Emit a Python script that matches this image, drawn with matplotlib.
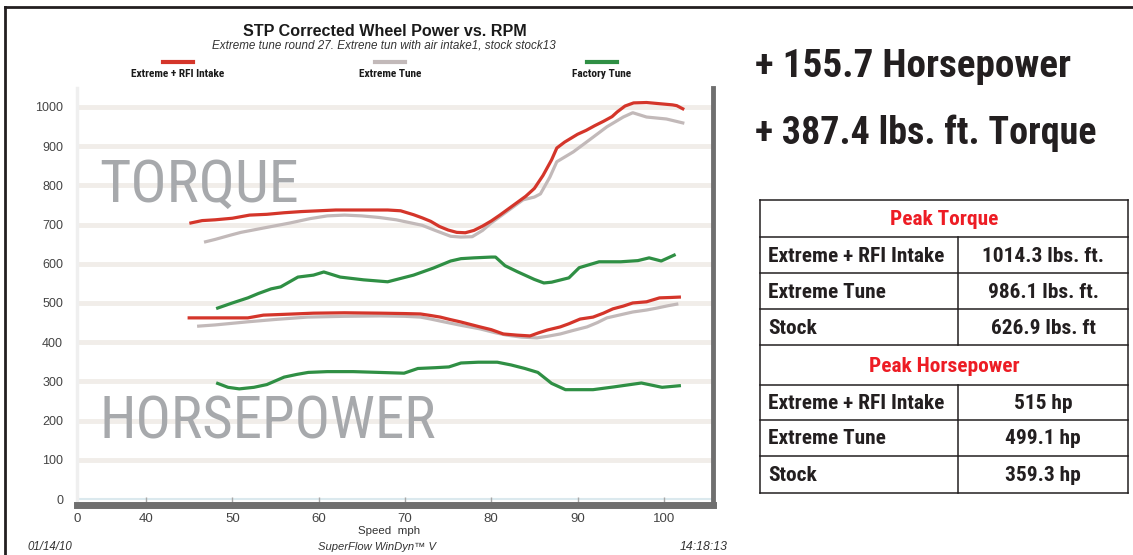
import matplotlib
matplotlib.use("Agg")
import matplotlib.pyplot as plt

# speed (mph) / value pairs
tq_rfi_mph = [45.2, 46.5, 48, 50, 52, 54, 56, 58, 60, 62, 64, 66, 68, 69.5, 71, 72, 73, 74, 75, 76,
              77, 78, 79, 80, 81, 82, 83, 84, 85, 86, 86.5, 87, 87.6, 88.5, 90, 91, 92, 93, 94, 94.6,
              95.5, 96.5, 98, 99.5, 101, 101.5, 102.2]
tq_rfi = [704, 710, 712, 716, 724, 726, 730, 733, 735, 737, 737, 737, 737, 735, 725, 717, 708, 695, 686, 680,
          679, 685, 696, 709, 724, 740, 756, 772, 792, 825, 845, 865, 895, 910, 930, 940, 952, 963, 975, 987,
          1002, 1010, 1011, 1008, 1005, 1003, 995]

tq_ext_mph = [46.9, 48, 49.8, 51, 53.6, 56.7, 59, 61, 63, 65, 67, 69, 70.5, 72, 73.5, 75.3, 76.5, 77.8, 79, 80,
              81.5, 83, 83.7, 85, 85.7, 86.8, 87.6, 89.5, 91.4, 93.4, 95.3, 96.4, 98, 100.3, 102.2]
tq_ext = [656, 662, 673, 680, 691, 704, 715, 722, 724, 722, 718, 712, 705, 698, 685, 670, 668, 669, 685, 704,
          728, 752, 763, 770, 778, 821, 860, 885, 916, 949, 974, 985, 974, 969, 959]

tq_stock_mph = [48.3, 50, 51.8, 53, 54.5, 55.6, 57.6, 59.4, 60.6, 62.5, 65.2, 68, 71, 73.3, 75.3, 76.5, 78, 80,
                80.5, 81.6, 83, 85, 86.1, 87, 89, 90.2, 92.5, 95, 97, 98.3, 99.7, 101.2]
tq_stock = [487, 500, 513, 524, 536, 541, 566, 571, 579, 566, 559, 554, 571, 589, 607, 613, 615, 617,
            617, 595, 580, 560, 551, 553, 564, 590, 605, 605, 608, 615, 607, 622]

hp_rfi_mph = [45.0, 48, 51.8, 53.6, 56, 59.4, 63, 67.2, 70, 71.8, 73, 74.1, 75.2, 76.4, 78.7, 80, 81.4, 83,
              84.5, 85.5, 86.5, 88, 89, 90.3, 91.8, 93, 94.1, 95.3, 96.4, 98, 99.5, 100.8, 101.8]
hp_rfi = [462, 462, 462, 469, 471, 474, 475, 474, 473, 472, 468, 464, 458, 452, 439, 432, 421, 418,
          416, 424, 431, 439, 447, 459, 464, 474, 485, 492, 500, 503, 513, 514, 515]

hp_ext_mph = [46.1, 48, 51.8, 55, 58.7, 63, 67.2, 70, 71.8, 73, 74.5, 76.5, 78.7, 80.5, 81.8, 83.5, 85.3,
              86.5, 88, 89.5, 91.1, 92.3, 93.4, 95, 96.4, 98, 99.2, 100.5, 101.5]
hp_ext = [441, 444, 452, 458, 464, 466, 467, 466, 464, 459, 452, 443, 434, 424, 418, 413, 411,
          415, 421, 430, 439, 450, 462, 470, 477, 482, 487, 493, 497]

hp_stock_mph = [48.3, 49.5, 50.8, 52.5, 54, 56, 57.5, 58.8, 61, 64, 67, 69.9, 71.5, 73.5, 75.1, 76.5, 78.5,
                80.7, 82.3, 83.9, 85.4, 87, 88.6, 91.8, 94.2, 97.4, 99.8, 101.8]
hp_stock = [295, 285, 281, 285, 292, 311, 318, 323, 325, 325, 323, 321, 333, 335, 337, 347, 349,
            349, 342, 333, 323, 295, 279, 279, 286, 296, 285, 289]

series_names = ["Extreme + RFI Intake", "Extreme Tune", "Factory Tune"]
xtick_pos = [32, 40, 50, 60, 70, 80, 90, 100]
xtick_labels = ["0", "40", "50", "60", "70", "80", "90", "100"]
ytick_pos = [0, 100, 200, 300, 400, 500, 600, 700, 800, 900, 1000]

gains = ["+ 155.7 Horsepower", "+ 387.4 lbs. ft. Torque"]
torque_rows = ["Extreme + RFI Intake", "Extreme Tune", "Stock"]
torque_vals = ["1014.3 lbs. ft.", "986.1 lbs. ft.", "626.9 lbs. ft"]
hp_rows = ["Extreme + RFI Intake", "Extreme Tune", "Stock"]
hp_vals = ["515 hp", "499.1 hp", "359.3 hp"]

RED = "#d4352a"
GREY = "#c2b9b9"
GREEN = "#2f8f44"
COND = ["Roboto Condensed", "DejaVu Sans Condensed", "Liberation Sans"]
W, H = 1133, 555


def fit(ov, renderer, x, y, s, width, **kw):
	# scale the font so the string spans about `width` pixels
	t = ov.text(x, y, s, fontsize=10, **kw)
	w = t.get_window_extent(renderer).width
	t.set_fontsize(10 * width / w)
	return t.get_fontsize()


def plot_chart(fig):
	ax = fig.add_axes([77 / W, 1 - 505 / H, (713 - 77) / W, (505 - 88) / H])
	for y in ytick_pos[1:]:
		ax.axhline(y, color="#f1ede9", lw=3.5, zorder=0)
	ax.axhline(0, color="#dbe9ee", lw=1.5, zorder=0)

	ax.plot(tq_ext_mph, tq_ext, color=GREY, lw=2.3)
	ax.plot(tq_rfi_mph, tq_rfi, color=RED, lw=2.3)
	ax.plot(tq_stock_mph, tq_stock, color=GREEN, lw=2.3)
	ax.plot(hp_ext_mph, hp_ext, color=GREY, lw=2.3)
	ax.plot(hp_rfi_mph, hp_rfi, color=RED, lw=2.3)
	ax.plot(hp_stock_mph, hp_stock, color=GREEN, lw=2.3)

	ax.set_xlim(32.1, 105.7)
	ax.set_ylim(-15, 1048)
	ax.set_xticks(xtick_pos)
	ax.set_xticklabels(xtick_labels)
	ax.set_yticks(ytick_pos)
	ax.tick_params(axis="y", length=0, pad=10, labelsize=9, labelcolor="#444444")
	ax.tick_params(axis="x", direction="in", length=6, width=1, color="#a8a8a8",
		pad=6, labelsize=9.5, labelcolor="#444444")
	for lab in ax.get_xticklabels() + ax.get_yticklabels():
		lab.set_family("Liberation Sans")

	ax.spines["top"].set_visible(False)
	ax.spines["left"].set_color("#efefef")
	ax.spines["left"].set_linewidth(2.5)
	ax.spines["right"].set_color("#6f6f6f")
	ax.spines["right"].set_linewidth(3.5)
	ax.spines["bottom"].set_color("#6f6f6f")
	ax.spines["bottom"].set_linewidth(5)
	return ax


def plot_decor(fig):
	rend = fig.canvas.get_renderer()
	ov = fig.add_axes([0, 0, 1, 1])
	ov.set_xlim(0, W)
	ov.set_ylim(H, 0)
	ov.axis("off")
	ov.patch.set_alpha(0)

	# page border
	ov.plot([5, W], [7, 7], color="#231f20", lw=2)
	ov.plot([5, 5], [7, H], color="#231f20", lw=2)

	fit(ov, rend, 385, 31, "STP Corrected Wheel Power vs. RPM", 285, ha="center", va="center",
		fontweight="bold", family="Liberation Sans", color="#1a1a1a")
	fit(ov, rend, 384, 45, "Extreme tune round 27. Extrene tun with air intake1, stock stock13", 345,
		ha="center", va="center", style="italic", family="Liberation Sans", color="#333333")

	# legend row
	fs = None
	for name, col, cx in zip(series_names, [RED, GREY, GREEN], [178, 390, 602]):
		ov.plot([cx - 15, cx + 15], [62, 62], color=col, lw=3)
		if fs is None:
			fs = fit(ov, rend, cx, 74, name, 94, ha="center", va="center", fontweight="bold",
				family=COND, color="#1a1a1a")
		else:
			ov.text(cx, 74, name, ha="center", va="center", fontsize=fs, fontweight="bold",
				family=COND, color="#1a1a1a")

	fit(ov, rend, 99, 185, "TORQUE", 199, ha="left", va="center", family=COND, color="#a7a9ac")
	fit(ov, rend, 99, 422, "HORSEPOWER", 338, ha="left", va="center", family=COND, color="#a7a9ac")

	fit(ov, rend, 389, 531, "Speed  mph", 62, ha="center", va="center",
		family="Liberation Sans", color="#333333")
	fit(ov, rend, 50, 547, "01/14/10", 45, ha="center", va="center", style="italic",
		family="Liberation Sans", color="#333333")
	fit(ov, rend, 377, 547, "SuperFlow WinDyn\u2122 V", 119, ha="center", va="center",
		style="italic", family="Liberation Sans", color="#333333")
	fit(ov, rend, 704, 547, "14:18:13", 48, ha="center", va="center", style="italic",
		family="Liberation Sans", color="#333333")

	# headline gains
	fit(ov, rend, 755, 77, gains[0], 317, ha="left", va="baseline", fontweight="bold",
		family=COND, color="#231f20")
	fit(ov, rend, 755, 144, gains[1], 343, ha="left", va="baseline", fontweight="bold",
		family=COND, color="#231f20")

	# peak table
	left, mid, right = 760, 958, 1128
	edges = [200, 237, 273, 309, 345, 385, 420, 456, 493]
	for y in edges:
		ov.plot([left, right], [y, y], color="#231f20", lw=1.1)
	ov.plot([left, left], [edges[0], edges[-1]], color="#231f20", lw=1.1)
	ov.plot([right, right], [edges[0], edges[-1]], color="#231f20", lw=1.1)
	ov.plot([mid, mid], [edges[1], edges[4]], color="#231f20", lw=1.1)
	ov.plot([mid, mid], [edges[5], edges[8]], color="#231f20", lw=1.1)

	tfs = fit(ov, rend, 768, (edges[1] + edges[2]) / 2 + 1, torque_rows[0], 176, ha="left",
		va="center", fontweight="bold", family=COND, color="#231f20")

	def cell(x, yc, s, ha, color="#231f20"):
		ov.text(x, yc, s, ha=ha, va="center", fontsize=tfs, fontweight="bold",
			family=COND, color=color)

	cx = (mid + right) / 2
	cell((left + right) / 2, (edges[0] + edges[1]) / 2 + 1, "Peak Torque", "center", "#ed1c24")
	for i in range(3):
		yc = (edges[1 + i] + edges[2 + i]) / 2 + 1
		if i > 0:
			cell(768, yc, torque_rows[i], "left")
		cell(cx, yc, torque_vals[i], "center")
	cell((left + right) / 2, (edges[4] + edges[5]) / 2 + 1, "Peak Horsepower", "center", "#ed1c24")
	for i in range(3):
		yc = (edges[5 + i] + edges[6 + i]) / 2 + 1
		cell(768, yc, hp_rows[i], "left")
		cell(cx, yc, hp_vals[i], "center")


def main():
	fig = plt.figure(figsize=(W / 100, H / 100), dpi=100)
	plot_chart(fig)
	plot_decor(fig)
	fig.savefig("out.png", dpi=100)


if __name__ == "__main__":
	main()
